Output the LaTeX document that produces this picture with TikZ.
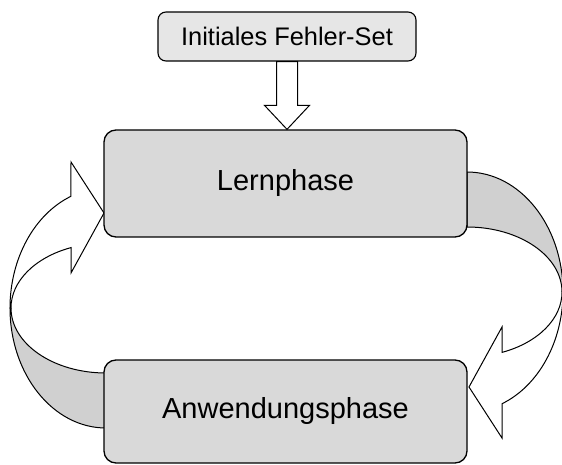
\documentclass[tikz,border=0pt]{standalone}
\usepackage{fontspec}
\setmainfont{Liberation Sans}
\usetikzlibrary{calc}
\definecolor{boxgray}{HTML}{D9D9D9}
\definecolor{topgray}{HTML}{E6E6E6}
\definecolor{backgray}{HTML}{D0D0D0}
\tikzset{
  phase/.style={draw, line width=1.3pt, fill=boxgray, rounded corners=12pt,
    minimum width=363pt, inner sep=0pt, font=\fontsize{29}{34}\selectfont},
  inputbox/.style={draw, line width=1.1pt, fill=topgray, rounded corners=8pt,
    minimum width=258pt, minimum height=49pt, inner sep=0pt,
    font=\fontsize{25.4}{30}\selectfont},
  ribbon/.style={draw, line width=1pt, line join=miter},
  % twisted ribbon arrow: grey back half above, white front half with head below
  pics/loop arrow/.style={code={
    \path[ribbon, fill=backgray] (0,120)
      arc[start angle=90, end angle=0, x radius=96, y radius=120] -- (95,0)
      arc[start angle=0, end angle=90, x radius=95, y radius=65] -- cycle;
    \path[ribbon, fill=white] (96,0)
      arc[start angle=0, end angle=-68.6, x radius=96, y radius=120]
      -- (35,-146) -- (2,-95) -- (35,-35) -- (35,-60.4)
      arc[start angle=-68.4, end angle=0, x radius=95, y radius=65] -- cycle;
  }}
}
\begin{document}
\begin{tikzpicture}[x=1pt, y=1pt]
  \useasboundingbox (0,0) rectangle (562,464);

  % loop arrows between the two phases
  \pic at (467,172) {loop arrow};
  \pic[rotate=180] at (106,156) {loop arrow};

  \node[inputbox] (top) at (287,427.5) {Initiales Fehler-Set};
  \node[phase, minimum height=107pt] (lern) at (285.5,280.5) {Lernphase};
  \node[phase, minimum height=103pt] (anw) at (285.5,52.5) {Anwendungsphase};

  % block arrow from the input set into the learning phase
  \draw[ribbon, fill=white] let \p1=(top.south), \p2=(lern.north) in
    (\x1-10.5pt,\y1) -- (\x1+10.5pt,\y1) -- (\x1+10.5pt,\y2+24pt)
    -- (\x1+22.5pt,\y2+24pt) -- (\x1,\y2) -- (\x1-22.5pt,\y2+24pt)
    -- (\x1-10.5pt,\y2+24pt) -- cycle;
\end{tikzpicture}
\end{document}
